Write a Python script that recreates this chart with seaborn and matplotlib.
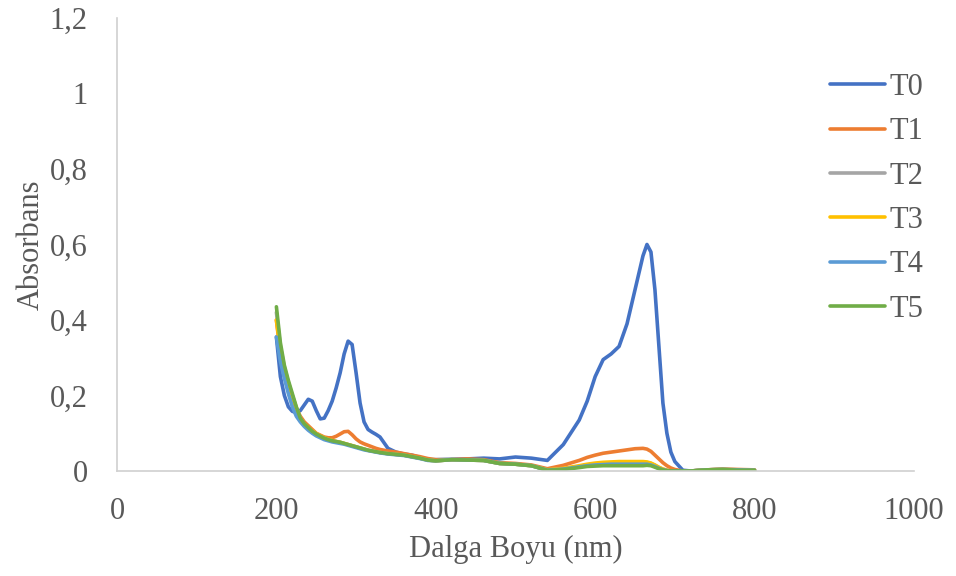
import matplotlib
matplotlib.use("Agg")
import matplotlib.pyplot as plt
import matplotlib.ticker as mticker
import seaborn as sns
import pandas as pd

# wavelength grid (nm)
wavelength = [200, 205, 210, 215, 220, 225, 230, 235, 240, 245, 250, 255, 260, 265, 270, 275,
              280, 285, 290, 295, 300, 305, 310, 315, 320, 325, 330, 340, 350, 360, 370, 380,
              390, 400, 420, 440, 460, 480, 500, 520, 540, 560, 580, 590, 600, 610, 620, 630,
              640, 650, 660, 665, 670, 675, 680, 685, 690, 695, 700, 710, 720, 740, 760, 780, 800]

t0 = [0.355, 0.25, 0.20, 0.17, 0.158, 0.155, 0.16, 0.175, 0.19, 0.185, 0.16, 0.138, 0.14, 0.16,
      0.185, 0.22, 0.26, 0.31, 0.344, 0.335, 0.26, 0.18, 0.13, 0.11, 0.103, 0.097, 0.09, 0.06,
      0.05, 0.045, 0.042, 0.036, 0.03, 0.03, 0.031, 0.032, 0.034, 0.032, 0.037, 0.034, 0.028,
      0.07, 0.135, 0.185, 0.25, 0.295, 0.31, 0.33, 0.39, 0.48, 0.57, 0.60, 0.58, 0.48, 0.33, 0.18,
      0.10, 0.05, 0.025, 0.002, 0.0, 0.003, 0.004, 0.002, 0.0]

t1 = [0.40, 0.31, 0.26, 0.22, 0.19, 0.165, 0.145, 0.13, 0.12, 0.11, 0.10, 0.095, 0.09, 0.088,
      0.088, 0.092, 0.098, 0.104, 0.105, 0.096, 0.085, 0.077, 0.072, 0.068, 0.064, 0.06, 0.057,
      0.053, 0.05, 0.046, 0.042, 0.038, 0.033, 0.03, 0.03, 0.032, 0.03, 0.022, 0.02, 0.016, 0.006,
      0.015, 0.028, 0.036, 0.042, 0.047, 0.05, 0.053, 0.056, 0.059, 0.06, 0.058, 0.052, 0.042,
      0.032, 0.022, 0.014, 0.008, 0.004, 0.0, 0.0, 0.003, 0.005, 0.004, 0.003]

t2 = [0.42, 0.33, 0.275, 0.235, 0.20, 0.168, 0.14, 0.125, 0.115, 0.105, 0.098, 0.092, 0.087,
      0.083, 0.08, 0.078, 0.076, 0.073, 0.07, 0.067, 0.064, 0.061, 0.058, 0.055, 0.053, 0.051,
      0.049, 0.046, 0.044, 0.042, 0.038, 0.034, 0.029, 0.027, 0.03, 0.029, 0.028, 0.02, 0.018,
      0.014, 0.003, 0.006, 0.012, 0.016, 0.018, 0.02, 0.021, 0.022, 0.022, 0.022, 0.022, 0.022,
      0.02, 0.015, 0.009, 0.005, 0.002, 0.0, 0.0, 0.0, 0.0, 0.003, 0.004, 0.003, 0.002]

t3 = [0.40, 0.32, 0.27, 0.232, 0.198, 0.167, 0.14, 0.125, 0.116, 0.106, 0.099, 0.093, 0.088,
      0.084, 0.081, 0.078, 0.076, 0.073, 0.07, 0.067, 0.064, 0.061, 0.058, 0.055, 0.053, 0.051,
      0.049, 0.046, 0.044, 0.042, 0.038, 0.034, 0.029, 0.027, 0.03, 0.029, 0.028, 0.02, 0.018,
      0.014, 0.003, 0.007, 0.014, 0.018, 0.021, 0.023, 0.024, 0.025, 0.025, 0.025, 0.025, 0.024,
      0.021, 0.016, 0.01, 0.005, 0.002, 0.0, 0.0, 0.0, 0.0, 0.003, 0.004, 0.003, 0.002]

t4 = [0.355, 0.29, 0.245, 0.205, 0.17, 0.145, 0.13, 0.118, 0.108, 0.1, 0.093, 0.088, 0.083,
      0.08, 0.077, 0.075, 0.073, 0.071, 0.068, 0.065, 0.062, 0.059, 0.056, 0.054, 0.052, 0.05,
      0.048, 0.045, 0.043, 0.041, 0.037, 0.033, 0.028, 0.027, 0.03, 0.029, 0.028, 0.02, 0.018,
      0.014, 0.002, 0.005, 0.011, 0.014, 0.016, 0.017, 0.018, 0.018, 0.018, 0.018, 0.018, 0.018,
      0.016, 0.012, 0.007, 0.003, 0.001, 0.0, 0.0, 0.0, 0.0, 0.003, 0.004, 0.003, 0.002]

t5 = [0.435, 0.34, 0.28, 0.24, 0.205, 0.17, 0.14, 0.125, 0.115, 0.105, 0.098, 0.092, 0.087,
      0.083, 0.08, 0.078, 0.076, 0.073, 0.07, 0.067, 0.064, 0.061, 0.058, 0.055, 0.053, 0.051,
      0.049, 0.046, 0.044, 0.042, 0.038, 0.034, 0.029, 0.027, 0.03, 0.029, 0.028, 0.02, 0.018,
      0.014, 0.002, 0.004, 0.009, 0.012, 0.013, 0.014, 0.014, 0.014, 0.014, 0.014, 0.014, 0.015,
      0.014, 0.01, 0.006, 0.003, 0.001, 0.0, 0.0, 0.0, 0.0, 0.003, 0.004, 0.002, 0.002]

series_names = ["T0", "T1", "T2", "T3", "T4", "T5"]
colors = ["#4472C4", "#ED7D31", "#A5A5A5", "#FFC000", "#5B9BD5", "#70AD47"]

# long-form table for seaborn
frames = []
for name, vals in zip(series_names, [t0, t1, t2, t3, t4, t5]):
    frames.append(pd.DataFrame({"wl": wavelength, "abs": vals, "seri": name}))
df = pd.concat(frames, ignore_index=True)

sns.set_style("white")
plt.rcParams["font.family"] = ["Liberation Serif", "DejaVu Serif"]

fig, ax = plt.subplots(figsize=(9.56, 5.76), dpi=100)
fig.subplots_adjust(left=0.1224, right=0.956, top=0.9688, bottom=0.1823)

sns.lineplot(data=df, x="wl", y="abs", hue="seri", palette=colors, hue_order=series_names,
             linewidth=2.6, ax=ax, sort=True)

ax.set_xlim(0, 1000)
ax.set_ylim(0, 1.2)
ax.set_xticks(range(0, 1001, 200))
ax.set_yticks([0, 0.2, 0.4, 0.6, 0.8, 1.0, 1.2])
fmt = mticker.FuncFormatter(lambda v, p: f"{v:g}".replace(".", ","))
ax.xaxis.set_major_formatter(fmt)
ax.yaxis.set_major_formatter(fmt)

txt = "#595959"
ax.tick_params(axis="both", length=0, labelsize=22, colors=txt)
ax.tick_params(axis="y", pad=21)
ax.tick_params(axis="x", pad=19)
ax.set_xlabel("Dalga Boyu (nm)", fontsize=22, color=txt, labelpad=6)
ax.set_ylabel("Absorbans", fontsize=22, color=txt, labelpad=3)

for s in ["top", "right"]:
    ax.spines[s].set_visible(False)
for s in ["left", "bottom"]:
    ax.spines[s].set_color("#D0D0D0")
    ax.spines[s].set_linewidth(1.2)

leg = ax.legend(loc="upper left", bbox_to_anchor=(0.868, 0.873), bbox_transform=fig.transFigure,
                frameon=False, fontsize=22, handlelength=1.8, labelspacing=0.5,
                handletextpad=0.16, borderpad=0, borderaxespad=0)
for t in leg.get_texts():
    t.set_color(txt)
for h in leg.get_lines():
    h.set_linewidth(2.6)

fig.savefig("out.png", dpi=100)
